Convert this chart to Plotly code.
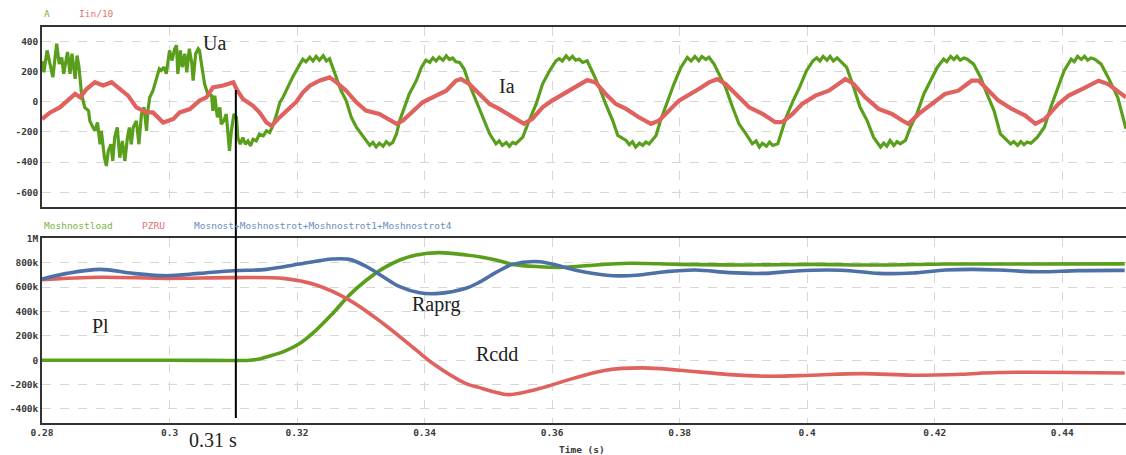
import plotly.graph_objects as go

# ---------------- data (time in ms) ----------------
ua_t_ms = [
    280.0, 280.3, 280.8, 281.3, 281.7, 282.3, 282.7, 283.1, 283.4, 284.0,
    284.4, 284.7, 285.2, 285.5, 285.8, 286.2, 286.7, 287.3, 287.5, 288.0,
    288.3, 288.7, 289.1, 289.3, 289.8, 290.1, 290.4, 290.8, 291.1, 291.4,
    291.8, 292.2, 292.6, 293.0, 293.4, 293.7, 294.0, 294.3, 294.8, 295.2,
    295.6, 296.0, 296.4, 296.6, 296.9, 297.4, 298.0, 298.4, 298.7, 299.1,
    299.5, 300.0, 300.4, 300.8, 301.1, 301.3, 301.7, 302.0, 302.4, 302.7,
    303.1, 303.5, 303.7, 304.1, 304.5, 304.7, 305.0, 305.5, 306.0, 306.6,
    306.8, 307.1, 307.5, 307.9, 308.1, 308.5, 308.9, 309.2, 309.4, 309.7,
    310.1, 310.5, 310.7, 311.1, 311.5, 311.9, 312.3, 312.7, 313.1, 313.6,
    314.1, 314.7, 315.2, 315.7, 316.2, 316.8, 317.3, 317.8, 318.3, 318.8,
    319.4, 319.9, 320.3, 320.9, 321.4, 322.0, 322.5, 323.0, 323.5, 324.1,
    324.6, 325.1, 325.4, 326.2, 326.9, 327.7, 328.5, 329.3, 330.1, 330.8,
    331.4, 331.9, 332.4, 332.9, 333.5, 334.0, 334.5, 335.0, 335.6, 336.1,
    336.8, 337.6, 338.7, 339.5, 340.2, 340.8, 341.3, 341.8, 342.3, 342.9,
    343.4, 343.9, 344.4, 344.9, 345.5, 346.2, 347.0, 348.1, 349.1, 350.2,
    351.2, 351.7, 352.2, 352.8, 353.3, 353.8, 354.3, 355.4, 356.4, 357.5,
    358.5, 359.6, 360.6, 361.1, 361.6, 362.2, 362.7, 363.2, 363.7, 364.2,
    364.8, 365.5, 366.6, 367.4, 368.4, 369.5, 370.3, 371.6, 372.1, 372.6,
    373.1, 373.7, 374.2, 374.7, 375.2, 376.3, 377.0, 378.1, 379.1, 380.2,
    381.2, 381.8, 382.4, 383.0, 383.5, 384.1, 384.6, 385.4, 386.2, 387.2,
    388.3, 389.3, 390.4, 391.4, 392.0, 392.5, 393.0, 393.6, 394.1, 394.6,
    395.4, 395.9, 396.7, 397.8, 398.8, 399.9, 400.9, 401.5, 402.0, 402.5,
    403.1, 403.6, 404.1, 404.7, 405.2, 406.2, 407.3, 408.3, 409.4, 410.4,
    411.5, 412.0, 412.5, 413.0, 413.6, 414.1, 414.6, 415.4, 416.2, 417.2,
    418.3, 419.3, 420.4, 421.4, 421.9, 422.5, 423.0, 423.5, 424.0, 424.6,
    425.1, 426.1, 427.2, 428.2, 429.3, 430.3, 431.4, 431.9, 432.4, 433.0,
    433.5, 434.0, 434.5, 435.1, 436.1, 437.2, 438.2, 439.3, 440.3, 441.4,
    441.9, 442.4, 443.0, 443.5, 444.0, 444.5, 445.1, 446.1, 447.2, 448.7,
    449.7, 450.0,
]
ua_val = [
    270, 195, 340, 230, 162, 384, 250, 293, 184, 329,
    184, 318, 151, 306, 229, 51, -38, -60, -127, -171,
    -193, -138, -282, -193, -371, -426, -326, -282, -393, -238,
    -171, -371, -260, -393, -238, -171, -282, -171, -127, -282,
    -82, -38, -193, -60, 29, 73, 162, 218, 207, 229,
    185, 340, 273, 351, 373, 184, 340, 229, 318, 195,
    351, 251, 140, 318, 351, 340, 251, 118, 51, 40,
    -60, 40, -104, -38, -149, -127, -82, -260, -326, -193,
    -82, -104, -238, -282, -238, -282, -260, -293, -249, -260,
    -215, -226, -193, -204, -160, -82, -4, 29, 80, 118,
    170, 207, 240, 282, 265, 295, 270, 300, 275, 305,
    270, 285, 249, 161, 73, 7, -103, -169, -213, -257,
    -290, -270, -300, -275, -295, -265, -285, -270, -213, -125,
    -37, 51, 139, 227, 275, 260, 290, 270, 295, 275,
    304, 280, 290, 265, 260, 216, 117, 7, -103, -213,
    -279, -260, -290, -270, -295, -270, -279, -235, -125, -15,
    117, 205, 271, 285, 270, 304, 280, 300, 275, 282,
    260, 271, 172, 95, -15, -125, -224, -257, -285, -265,
    -301, -275, -290, -268, -280, -224, -125, 7, 117, 227,
    293, 270, 300, 271, 300, 280, 295, 249, 183, 95,
    -37, -147, -213, -279, -260, -301, -275, -295, -268, -290,
    -279, -213, -103, 7, 95, 205, 271, 290, 270, 300,
    275, 300, 270, 290, 271, 227, 95, -37, -125, -235,
    -301, -275, -295, -257, -290, -265, -279, -257, -169, -81,
    51, 139, 227, 282, 265, 300, 280, 300, 275, 290,
    282, 249, 161, 51, -59, -213, -257, -280, -265, -290,
    -265, -285, -268, -275, -235, -169, -37, 95, 205, 282,
    265, 300, 280, 300, 275, 290, 282, 249, 161, 29,
    -147, -180,
]

iin_t_ms = [
    280.0, 281.3, 282.8, 284.4, 285.2, 286.0, 287.0, 288.3, 289.6, 290.9,
    292.2, 293.5, 294.8, 296.4, 297.4, 299.0, 300.6, 301.6, 303.2, 304.7,
    305.8, 306.8, 308.4, 310.0, 310.5, 311.5, 313.1, 314.1, 315.2, 316.0,
    317.0, 318.3, 319.9, 320.9, 322.0, 323.5, 325.1, 326.2, 327.7, 329.3,
    330.8, 332.9, 334.5, 335.6, 336.6, 338.2, 339.7, 341.8, 343.4, 344.9,
    345.7, 347.0, 348.6, 350.2, 351.7, 353.8, 355.6, 356.9, 358.5, 360.0,
    362.2, 364.2, 365.5, 366.8, 368.4, 370.0, 371.6, 373.6, 375.5, 376.8,
    378.3, 379.9, 383.0, 384.6, 385.9, 387.2, 388.8, 390.9, 393.0, 395.0,
    396.1, 397.7, 399.2, 401.3, 403.4, 405.0, 406.0, 407.3, 409.1, 411.2,
    413.3, 414.9, 415.9, 417.5, 419.6, 421.6, 423.7, 425.8, 426.9, 428.5,
    430.0, 432.1, 434.2, 435.8, 437.3, 439.4, 441.0, 443.1, 445.7, 447.2,
    448.8, 450.0,
]
iin_val = [
    -115, -71, -38, 18, 51, 29, 84, 129, 107, 129,
    84, 40, -38, -71, -71, -138, -115, -71, -49, 7,
    29, 95, 107, 129, 84, 18, -27, -71, -138, -160,
    -115, -60, 0, 60, 106, 139, 161, 128, 73, -4,
    -59, -81, -125, -147, -125, -59, -4, 40, 73, 139,
    150, 117, 51, -15, -48, -103, -147, -114, -37, 7,
    62, 106, 143, 128, 51, -15, -48, -103, -147, -125,
    -59, 7, 84, 128, 150, 117, 51, -37, -81, -136,
    -136, -81, -15, 40, 73, 117, 150, 117, 29, -48,
    -81, -125, -147, -81, -15, 51, 73, 139, 139, 73,
    7, -48, -92, -147, -114, -15, 40, 84, 139, 117,
    62, 29,
]

load_t_ms = [
    280.0, 300.0, 312.6, 313.9, 315.2, 317.8, 320.4, 323.0, 325.6, 328.2,
    330.9, 333.5, 336.1, 338.7, 342.3, 346.5, 348.6, 351.2, 353.8, 358.0,
    361.6, 365.3, 372.1, 379.9, 390.4, 400.7, 411.2, 421.7, 430.0, 449.8,
]
load_val_k = [
    0, 0, 0, 8, 27, 68, 137, 247, 384, 534,
    658, 753, 822, 863, 882, 863, 849, 822, 786, 767,
    762, 775, 795, 786, 781, 786, 781, 789, 789, 790,
]

pzru_t_ms = [
    280.0, 289.1, 299.5, 310.0, 317.8, 323.0, 328.2, 333.5, 338.7, 341.3,
    346.5, 348.6, 351.7, 353.3, 358.0, 363.2, 368.4, 374.2, 379.9, 387.8,
    394.5, 400.7, 408.6, 416.5, 424.2, 430.0, 449.8,
]
pzru_val_k = [
    660, 680, 671, 677, 671, 617, 493, 301, 82, -27,
    -192, -225, -270, -282, -233, -151, -82, -63, -82, -118,
    -132, -123, -110, -123, -115, -101, -105,
]

rot_t_ms = [
    280.0, 283.9, 289.1, 294.3, 299.5, 304.7, 310.0, 315.2, 320.4, 325.6,
    328.2, 330.9, 333.5, 336.1, 339.2, 342.3, 346.5, 348.6, 351.2, 353.8,
    358.0, 361.6, 365.3, 369.5, 373.7, 377.8, 382.5, 387.8, 393.0, 398.2,
    403.4, 407.1, 411.2, 416.5, 421.7, 425.9, 430.0, 436.3, 442.5, 449.8,
]
rot_val_k = [
    666, 712, 745, 712, 693, 712, 734, 745, 789, 830,
    827, 767, 685, 603, 553, 548, 590, 640, 720, 786,
    808, 767, 721, 693, 699, 726, 740, 718, 712, 732,
    740, 732, 712, 715, 740, 745, 740, 725, 735, 737,
]

x_ticks = [0.28, 0.30, 0.32, 0.34, 0.36, 0.38, 0.40, 0.42, 0.44]
x_tick_text = ["0.28", "0.3", "0.32", "0.34", "0.36", "0.38", "0.4", "0.42", "0.44"]
top_ticks = [400, 200, 0, -200, -400, -600]
top_tick_text = ["400", "200", "0", "-200", "-400", "-600"]
bot_ticks = [1000000, 800000, 600000, 400000, 200000, 0, -200000, -400000]
bot_tick_text = ["1M", "800k", "600k", "400k", "200k", "0", "-200k", "-400k"]

event_time = 0.3104

# ---------------- styling ----------------
GREEN = "#5a9f1c"
RED = "#e0625f"
BLUE = "#4d70a6"
MONO = "DejaVu Sans Mono"
SERIF = "Liberation Serif"
tick_font = dict(family=MONO, size=9.5, color="#3a3a3a", weight="bold")

to_s = lambda lst: [v / 1000.0 for v in lst]
to_abs = lambda lst: [v * 1000.0 for v in lst]

fig = go.Figure()
fig.add_trace(go.Scatter(x=to_s(ua_t_ms), y=ua_val, mode="lines",
                         line=dict(color=GREEN, width=3.2), xaxis="x", yaxis="y"))
fig.add_trace(go.Scatter(x=to_s(iin_t_ms), y=iin_val, mode="lines",
                         line=dict(color=RED, width=4.2), xaxis="x", yaxis="y"))
fig.add_trace(go.Scatter(x=to_s(load_t_ms), y=to_abs(load_val_k), mode="lines",
                         line=dict(color=GREEN, width=3.6, shape="spline"), xaxis="x2", yaxis="y2"))
fig.add_trace(go.Scatter(x=to_s(pzru_t_ms), y=to_abs(pzru_val_k), mode="lines",
                         line=dict(color=RED, width=3.6, shape="spline"), xaxis="x2", yaxis="y2"))
fig.add_trace(go.Scatter(x=to_s(rot_t_ms), y=to_abs(rot_val_k), mode="lines",
                         line=dict(color=BLUE, width=3.6, shape="spline"), xaxis="x2", yaxis="y2"))

common_x = dict(range=[0.28, 0.45], tickvals=x_ticks, ticktext=x_tick_text,
                showgrid=True, gridcolor="#d6d6d6", griddash="dash", gridwidth=1,
                zeroline=False, showline=True, mirror=True, linecolor="#333", linewidth=1.6,
                ticks="", tickfont=tick_font, automargin=False)
common_y = dict(showgrid=True, gridcolor="#d6d6d6", griddash="dash", gridwidth=1,
                zeroline=False, showline=True, mirror=True, linecolor="#333", linewidth=1.6,
                ticks="", tickfont=tick_font, automargin=False)

fig.update_layout(
    width=1126, height=455,
    template="none",
    showlegend=False,
    paper_bgcolor="white", plot_bgcolor="white",
    margin=dict(l=42, r=0, t=27, b=32),
    xaxis=dict(domain=[0, 1], anchor="y", showticklabels=False, **common_x),
    yaxis=dict(domain=[0.5447, 1], anchor="x", range=[-700, 495],
               tickvals=top_ticks, ticktext=top_tick_text, **common_y),
    xaxis2=dict(domain=[0, 1], anchor="y2", **common_x),
    yaxis2=dict(domain=[0, 0.468], anchor="x2", range=[-515000, 1005000],
                tickvals=bot_ticks, ticktext=bot_tick_text, **common_y),
)

fig.add_shape(type="line", xref="x", yref="paper", x0=event_time, x1=event_time,
              y0=0.0126, y1=0.841, line=dict(color="black", width=2))

def legend_text(txt, xp, yp, color):
    fig.add_annotation(text=txt, xref="paper", yref="paper", x=xp, y=yp,
                       xanchor="left", yanchor="middle", showarrow=False,
                       font=dict(family=MONO, size=9.5, color=color))

legend_text("A", 0.0, 1.033, "#7cb342")
legend_text("Iin/10", 0.0323, 1.033, "#e57373")
legend_text("Moshnostload", 0.0, 0.5, "#7cb342")
legend_text("PZRU", 0.0904, 0.5, "#e57373")
legend_text("Mosnost+Moshnostrot+Moshnostrot1+Moshnostrot4", 0.1384, 0.5, "#6a8cc0")

def label(txt, x, y, xref, yref, size=20):
    fig.add_annotation(text=txt, x=x, y=y, xref=xref, yref=yref, showarrow=False,
                       xanchor="center", yanchor="middle",
                       font=dict(family=SERIF, size=size, color="#222"))

label("Ua", 0.3071, 390, "x", "y")
label("Ia", 0.3530, 106, "x", "y")
label("Pl", 0.2892, 279000, "x2", "y2")
label("Raprg", 0.3419, 459000, "x2", "y2")
label("Rcdd", 0.3513, 49000, "x2", "y2")
label("0.31 s", 0.3068, -0.043, "x2", "paper")

fig.add_annotation(text="Time (s)", xref="paper", yref="paper", x=0.498, y=-0.066,
                   xanchor="center", yanchor="middle", showarrow=False,
                   font=dict(family=MONO, size=9.5, color="#3a3a3a", weight="bold"))

fig.write_html("out.html")
